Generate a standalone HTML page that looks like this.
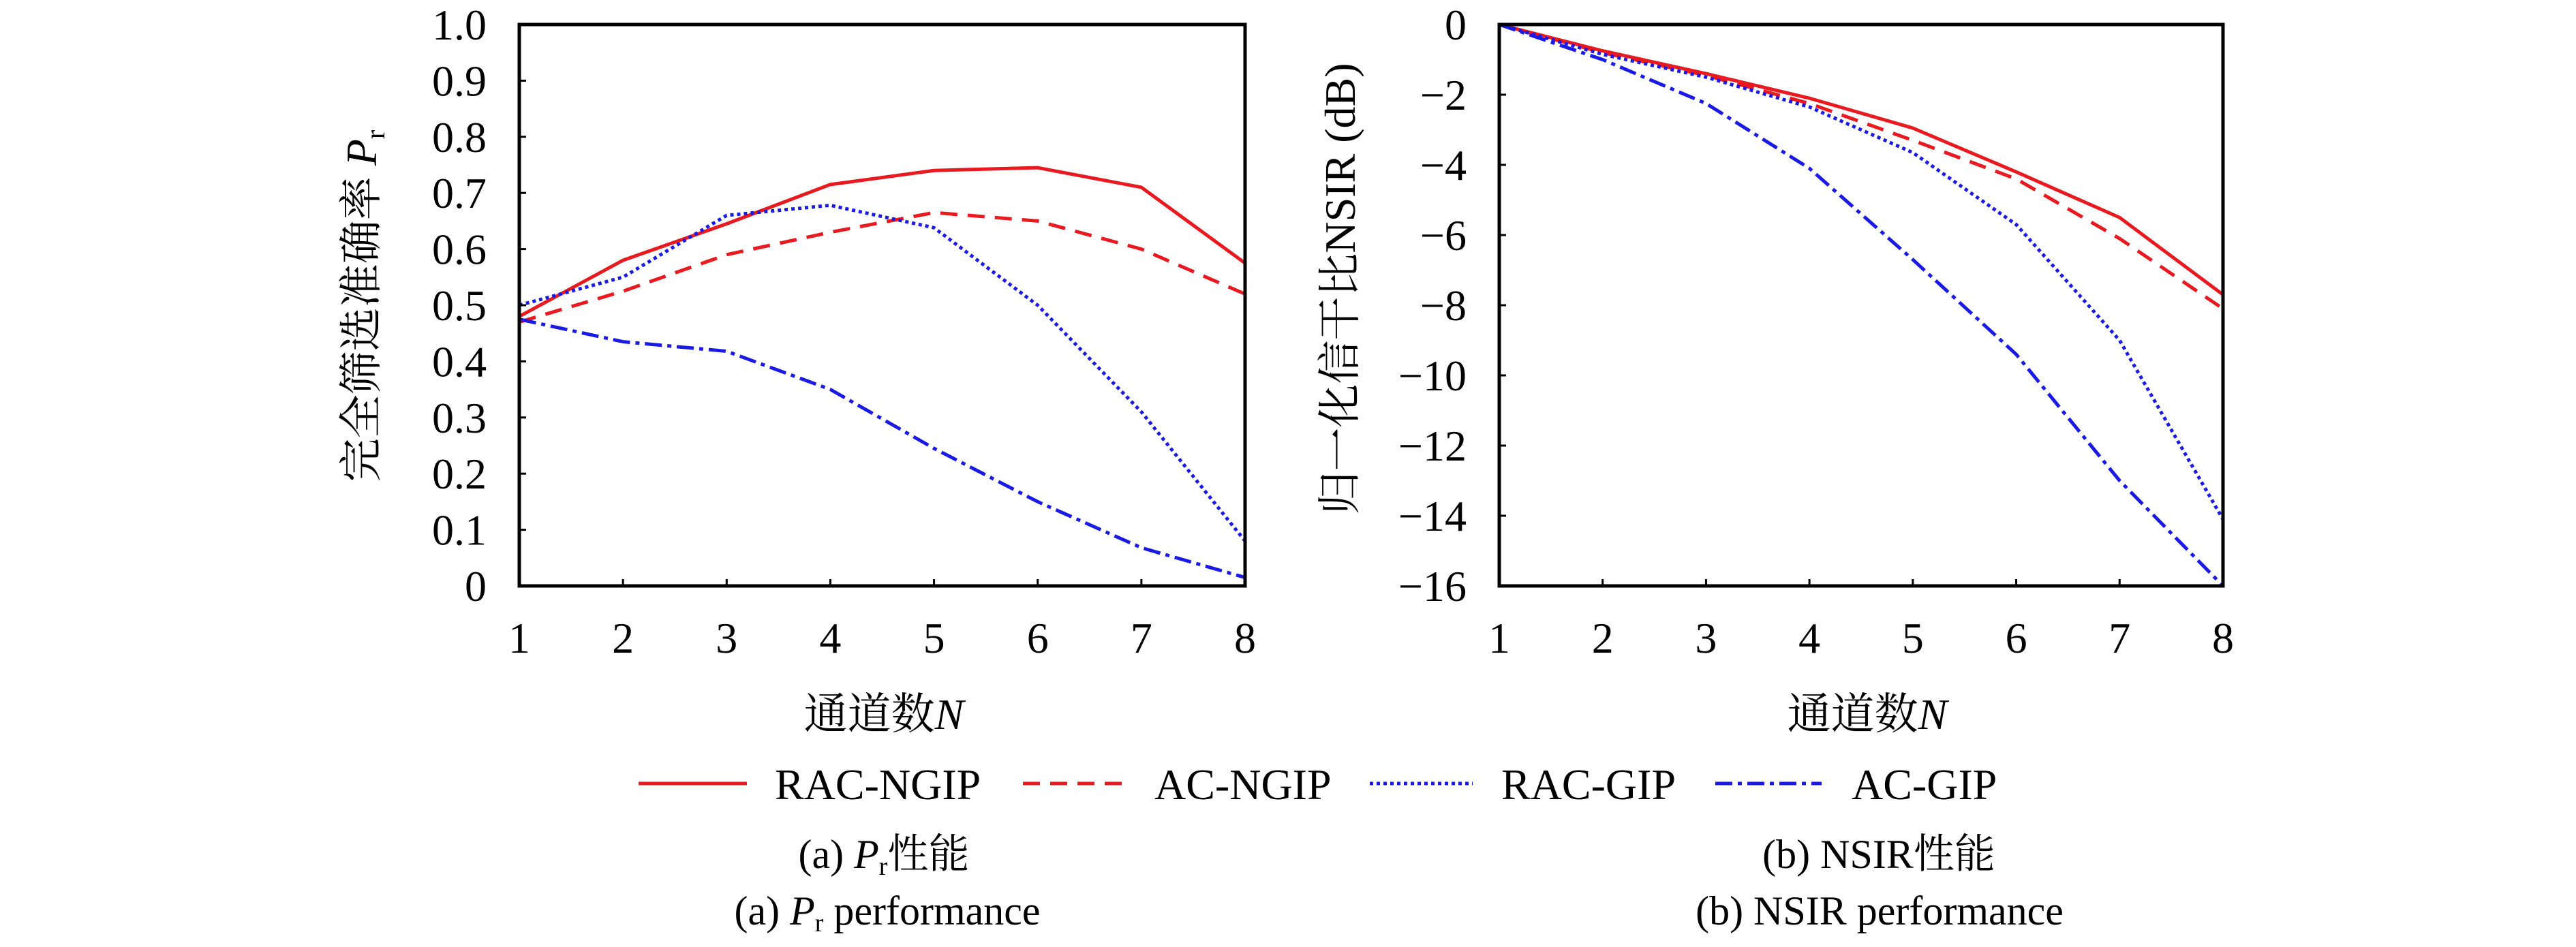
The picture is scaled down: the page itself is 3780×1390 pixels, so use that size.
<!DOCTYPE html>
<html><head><meta charset="utf-8"><style>
html,body{margin:0;padding:0;background:#fff;}
svg, svg text{font-family:"Liberation Serif","Noto Serif CJK SC",serif;}
</style></head><body>
<svg id="fig" width="3780" height="1385" viewBox="0 0 3780 1385" xmlns="http://www.w3.org/2000/svg" font-family="'Liberation Serif','Noto Serif CJK SC',serif">
<g id="pa"></g>
<g id="pb"></g>
<text x="1297" y="1070" font-size="64" text-anchor="middle">通道数<tspan font-style="italic">N</tspan></text>
<text x="2740" y="1070" font-size="64" text-anchor="middle">通道数<tspan font-style="italic">N</tspan></text>
<text transform="translate(552,449) rotate(-90)" font-size="64" text-anchor="middle">完全筛选准确率 <tspan font-style="italic">P</tspan><tspan font-size="40" dy="12">r</tspan></text>
<text transform="translate(1988,424) rotate(-90)" font-size="64" text-anchor="middle">归一化信干比NSIR (dB)</text>
<g id="legend">
<g><line x1="937" y1="1150" x2="1096" y2="1150" stroke="#e8191f" stroke-width="5"/><text x="1137" y="1173" font-size="64">RAC-NGIP</text></g>
<g><line x1="1501" y1="1150" x2="1649" y2="1150" stroke="#e8191f" stroke-width="5" stroke-dasharray="25,15"/><text x="1694" y="1173" font-size="64">AC-NGIP</text></g>
<g><line x1="2010" y1="1150" x2="2161" y2="1150" stroke="#1a1ae6" stroke-width="5" stroke-dasharray="5,5"/><text x="2203" y="1173" font-size="64">RAC-GIP</text></g>
<g><line x1="2517" y1="1150" x2="2673" y2="1150" stroke="#1a1ae6" stroke-width="5" stroke-dasharray="25,8,6,8"/><text x="2717" y="1173" font-size="64">AC-GIP</text></g>
</g>
<text x="1297" y="1274" font-size="60" text-anchor="middle">(a) <tspan font-style="italic">P</tspan><tspan font-size="38" dy="10">r</tspan><tspan dy="-10">性能</tspan></text>
<text x="1302" y="1357" font-size="60" text-anchor="middle">(a) <tspan font-style="italic">P</tspan><tspan font-size="38" dy="10">r</tspan><tspan dy="-10"> performance</tspan></text>
<text x="2757" y="1274" font-size="60" text-anchor="middle">(b) NSIR性能</text>
<text x="2758" y="1357" font-size="60" text-anchor="middle">(b) NSIR performance</text>
</svg>
<script>
const categories = [1,2,3,4,5,6,7,8];
const aRacNgip = [0.48,0.58,0.645,0.715,0.74,0.745,0.71,0.575];
const aAcNgip = [0.47,0.525,0.59,0.63,0.665,0.65,0.60,0.52];
const aRacGip = [0.50,0.55,0.66,0.678,0.638,0.50,0.31,0.08];
const aAcGip = [0.475,0.435,0.418,0.35,0.245,0.15,0.068,0.015];
const aTicks = ["0","0.1","0.2","0.3","0.4","0.5","0.6","0.7","0.8","0.9","1.0"];
const bRacNgip = [0,-0.75,-1.4,-2.1,-2.95,-4.2,-5.5,-7.7];
const bAcNgip = [0,-0.8,-1.45,-2.25,-3.3,-4.4,-6.1,-8.1];
const bRacGip = [0,-0.85,-1.5,-2.35,-3.65,-5.7,-9.0,-14.1];
const bAcGip = [0,-1.0,-2.25,-4.1,-6.7,-9.4,-13.0,-16.0];
const bTicks = ["0","-2","-4","-6","-8","-10","-12","-14","-16"];

const NS = "http://www.w3.org/2000/svg";
function mk(tag, attrs, parent){const e=document.createElementNS(NS,tag);for(const k in attrs)e.setAttribute(k,attrs[k]);parent.appendChild(e);return e;}

function drawChart(g, L, R, T, B, ymin, ymax, ticks, series, labelRight, prefix){
  const xs = v => L + (v-1)/(categories.length-1)*(R-L);
  const ys = v => B - (v-ymin)/(ymax-ymin)*(B-T);
  const styles = [
    {c:"#e8191f",d:"none",n:"rac-ngip"},
    {c:"#e8191f",d:"25,15",n:"ac-ngip"},
    {c:"#1a1ae6",d:"5,5",n:"rac-gip"},
    {c:"#1a1ae6",d:"25,8,6,8",n:"ac-gip"}];
  series.forEach((s,i)=>{
    const pts = s.map((v,j)=>xs(categories[j])+","+ys(v)).join(" ");
    const p = mk("polyline",{points:pts,fill:"none",stroke:styles[i].c,"stroke-width":5,"stroke-dasharray":styles[i].d},g);
    
    
  });
  const box = mk("rect",{x:L,y:T,width:R-L,height:B-T,fill:"none",stroke:"#000","stroke-width":5},g);
  
  
  ticks.forEach(t=>{
    const v = parseFloat(t);
    const y = ys(v);
    mk("line",{x1:L,y1:y,x2:L+10,y2:y,stroke:"#000","stroke-width":3},g);
    const tx = mk("text",{x:labelRight,y:y+22,"font-size":64,"text-anchor":"end"},g);
    tx.textContent = t.replace("-","\u2212");
    
    
  });
  categories.forEach(c=>{
    const x = xs(c);
    mk("line",{x1:x,y1:B,x2:x,y2:B-10,stroke:"#000","stroke-width":3},g);
    const tx = mk("text",{x:x,y:958,"font-size":64,"text-anchor":"middle"},g);
    tx.textContent = c;
    
    
  });
}
drawChart(document.getElementById("pa"),762,1827,36,860,0,1,aTicks,[aRacNgip,aAcNgip,aRacGip,aAcGip],714,"chart-a");
drawChart(document.getElementById("pb"),2200,3262,36,860,-16,0,bTicks,[bRacNgip,bAcNgip,bRacGip,bAcGip],2152,"chart-b");
</script>
</body></html>
